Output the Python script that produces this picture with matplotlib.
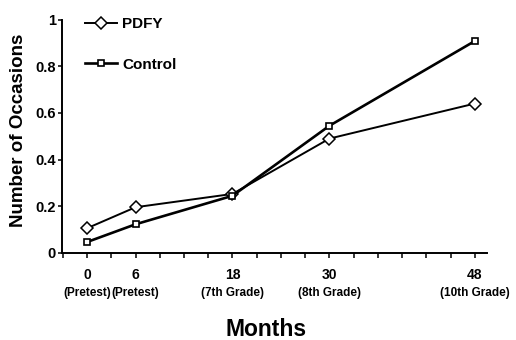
import matplotlib
matplotlib.use("Agg")
import matplotlib.pyplot as plt
from matplotlib.ticker import MultipleLocator
from matplotlib.transforms import blended_transform_factory

# values
months = [0, 6, 18, 30, 48]
month_labels = ["0", "6", "18", "30", "48"]
month_notes = ["(Pretest)", "(Pretest)", "(7th Grade)", "(8th Grade)", "(10th Grade)"]
pdfy = [0.106, 0.196, 0.253, 0.49, 0.64]
control = [0.047, 0.123, 0.245, 0.545, 0.908]
y_ticks = [0, 0.2, 0.4, 0.6, 0.8, 1]
y_tick_labels = ["0", "0.2", "0.4", "0.6", "0.8", "1"]

plt.rcParams['font.family'] = ['Liberation Sans', 'DejaVu Sans']
plt.rcParams['font.weight'] = 'bold'

W, H = 516, 340
fig = plt.figure(figsize=(W / 100, H / 100), dpi=100)
fig.patch.set_facecolor('white')

# axes box in pixel terms: left 62, right 487, top 19.5, bottom 253
ax = fig.add_axes([62 / W, 1 - 253 / H, (487 - 62) / W, (253 - 19.5) / H])

ax.plot(months, pdfy, color='black', lw=1.4, marker='D', ms=6,
        mfc='white', mec='black', mew=1.1, label='PDFY', zorder=3)
ax.plot(months, control, color='black', lw=1.9, marker='s', ms=5,
        mfc='white', mec='black', mew=1.2, label='Control', zorder=3)

ax.set_xlim(-3.1, 49.5)
ax.set_ylim(0, 1)

for side in ['top', 'right']:
    ax.spines[side].set_visible(False)
for side in ['left', 'bottom']:
    ax.spines[side].set_linewidth(1.4)

ax.set_xticks(months)
ax.set_xticklabels(month_labels, fontsize=10, fontweight='bold')
ax.xaxis.set_minor_locator(MultipleLocator(3))
ax.tick_params(axis='x', which='both', direction='out', length=3.5, width=1.1, pad=7)

# second line of each month label
trans = blended_transform_factory(ax.transData, fig.transFigure)
for m, note in zip(months, month_notes):
    ax.text(m, 1 - 293 / H, note, transform=trans, ha='center', va='center',
            fontsize=8.5, fontweight='bold')

ax.set_yticks(y_ticks)
ax.set_yticklabels(y_tick_labels, fontsize=10.5, fontweight='bold')
ax.tick_params(axis='y', direction='out', length=3, width=1.1, pad=1.5)

fig.text(19 / W, 1 - 130 / H, "Number of Occasions", rotation=90,
         ha='center', va='center', fontsize=13.5, fontweight='bold')
fig.text(266 / W, 1 - 330 / H, "Months", ha='center', va='center',
         fontsize=16.5, fontweight='bold')

leg = ax.legend(loc='upper left', bbox_to_anchor=(85 / W, 1 - 17 / H),
                bbox_transform=fig.transFigure, frameon=False,
                prop={'size': 11, 'weight': 'bold'}, handlelength=2.1,
                handletextpad=0.35, labelspacing=1.75, borderpad=0,
                borderaxespad=0)

fig.savefig("out.png", dpi=100, facecolor='white')
